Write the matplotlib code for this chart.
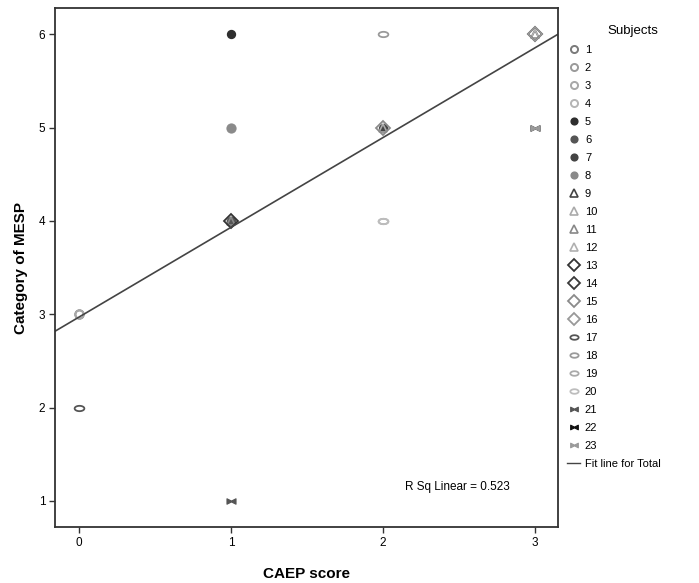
import matplotlib
matplotlib.use("Agg")

import numpy as np
import matplotlib.pyplot as plt
from matplotlib.path import Path
from matplotlib.lines import Line2D

plt.rcParams["font.family"] = ["Liberation Sans", "DejaVu Sans"]

# data: one entry per subject
subjects = list(range(1, 24))
caep = [0, 1, 0, 1, 1, 1, 2, 1, 3, 2, 1, 3, 1, 3, 2, 3, 0, 2, 2, 2, 1, 3, 3]
mesp = [3, 5, 3, 4, 6, 4, 5, 5, 6, 5, 4, 6, 4, 6, 5, 6, 2, 6, 4, 4, 1, 5, 5]

fit_intercept = 2.97
fit_slope = 0.962
r_sq = "0.523"

# marker shapes
t = np.linspace(0, 2 * np.pi, 40)
ellipse = Path(np.column_stack([np.cos(t), 0.55 * np.sin(t)]), closed=True)
bowtie = Path([(-1, -0.6), (-1, 0.6), (0, 0.1), (1, 0.6), (1, -0.6), (0, -0.1), (-1, -0.6)],
              closed=True)

def style(s):
    if s <= 4:
        g = ["#7a7a7a", "#9a9a9a", "#a8a8a8", "#b5b5b5"][s - 1]
        return dict(marker="o", mfc="none", mec=g, ms=6, mew=1.4)
    if s <= 8:
        g = ["#2e2e2e", "#555555", "#444444", "#8a8a8a"][s - 5]
        return dict(marker="o", mfc=g, mec=g, ms=5.5, mew=1.2)
    if s <= 12:
        g = ["#444444", "#aaaaaa", "#888888", "#b0b0b0"][s - 9]
        return dict(marker="^", mfc="none", mec=g, ms=6, mew=1.2)
    if s <= 16:
        g = ["#333333", "#3a3a3a", "#8a8a8a", "#999999"][s - 13]
        return dict(marker="D", mfc="none", mec=g, ms=7.5, mew=1.3)
    if s <= 20:
        g = ["#555555", "#9a9a9a", "#aaaaaa", "#bdbdbd"][s - 17]
        return dict(marker=ellipse, mfc="none", mec=g, ms=7, mew=1.3)
    g = ["#555555", "#111111", "#9a9a9a"][s - 21]
    return dict(marker=bowtie, mfc=g, mec=g, ms=6.5, mew=0.8)

fig = plt.figure(figsize=(6.99, 5.83), dpi=100)
ax = fig.add_axes([0.0787, 0.096, 0.7195, 0.89])

handles = []
for s, x, y in zip(subjects, caep, mesp):
    st = style(s)
    ax.plot([x], [y], linestyle="none", **st)
    handles.append(Line2D([], [], linestyle="none", **st))

xlim = (-0.158, 3.15)
xs = np.array(xlim)
ax.plot(xs, fit_intercept + fit_slope * xs, color="#444444", lw=1.2)
handles.append(Line2D([], [], color="#444444", lw=1.0))

ax.set_xlim(*xlim)
ax.set_ylim(0.72, 6.28)
ax.set_xticks([0, 1, 2, 3])
ax.set_yticks([1, 2, 3, 4, 5, 6])
ax.tick_params(labelsize=8.5, length=4, width=1, color="#333333", pad=3)
for sp in ax.spines.values():
    sp.set_color("#333333")
    sp.set_linewidth(1.3)

ax.set_xlabel("CAEP score", fontsize=11, fontweight="bold", labelpad=13)
ax.set_ylabel("Category of MESP", fontsize=11, fontweight="bold", labelpad=8)

ax.text(0.80, 0.077, f"R Sq Linear = {r_sq}", transform=ax.transAxes,
        ha="center", va="center", fontsize=8.5)

labels = [str(s) for s in subjects] + ["Fit line for Total"]
leg = fig.legend(handles, labels, loc="upper left", bbox_to_anchor=(0.805, 0.965),
                 frameon=False, title="Subjects", fontsize=8, title_fontsize=9.5,
                 labelspacing=0.72, handlelength=1.2, handletextpad=0.4,
                 borderaxespad=0.0, markerscale=0.85)
leg._legend_box.align = "left"
leg.get_title().set_position((40, 0))

plt.savefig("out.png", dpi=100)
